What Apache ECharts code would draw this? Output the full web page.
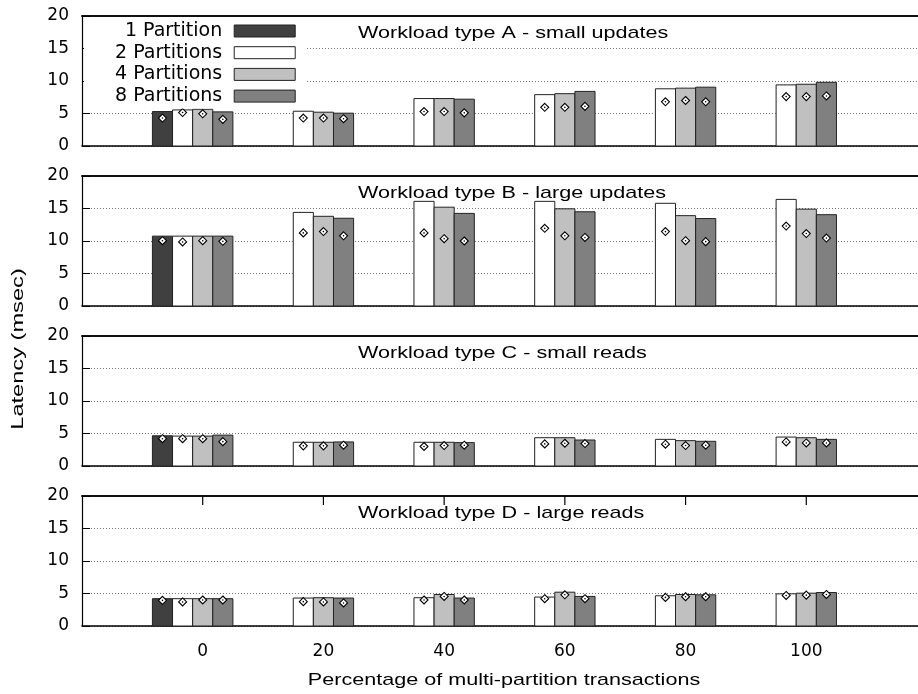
<!DOCTYPE html>
<html>
<head>
<meta charset="utf-8">
<script src="https://cdn.jsdelivr.net/npm/echarts@6/dist/echarts.min.js"></script>
<style>
  html, body { margin: 0; padding: 0; background: #fff; }
  #chart { width: 918px; height: 694px; }
</style>
</head>
<body>
<div id="chart"></div>
<script>
// x tick labels: percentage of multi-partition transactions
const pctLabels = ['0', '20', '40', '60', '80', '100'];
const partitionNames = ['1 Partition', '2 Partitions', '4 Partitions', '8 Partitions'];
const workloadTitles = [
  'Workload type A - small updates',
  'Workload type B - large updates',
  'Workload type C - small reads',
  'Workload type D - large reads'
];

// Bar heights (latency, msec); one row per partition count, one column per percentage
const meanA = [
  [5.3, null, null, null, null, null],
  [5.55, 5.35, 7.3, 7.9, 8.8, 9.4],
  [5.65, 5.2, 7.3, 8.05, 8.9, 9.5],
  [5.25, 5.05, 7.2, 8.4, 9.05, 9.8]
];
const meanB = [
  [10.75, null, null, null, null, null],
  [10.75, 14.4, 16.1, 16.1, 15.8, 16.4],
  [10.75, 13.8, 15.2, 14.95, 13.9, 14.9],
  [10.75, 13.5, 14.25, 14.5, 13.45, 14.05]
];
const meanC = [
  [4.65, null, null, null, null, null],
  [4.6, 3.65, 3.65, 4.35, 4.1, 4.45],
  [4.6, 3.65, 3.65, 4.35, 3.9, 4.35],
  [4.75, 3.7, 3.6, 4.0, 3.8, 4.1]
];
const meanD = [
  [4.2, null, null, null, null, null],
  [4.2, 4.3, 4.35, 4.45, 4.65, 4.95],
  [4.2, 4.35, 4.85, 5.2, 4.85, 5.05],
  [4.2, 4.3, 4.3, 4.55, 4.8, 5.15]
];

// Diamond markers (median latency, msec), same layout as the bars
const medianA = [
  [4.3, null, null, null, null, null],
  [5.15, 4.3, 5.3, 5.95, 6.8, 7.6],
  [4.95, 4.3, 5.3, 5.95, 7.0, 7.6],
  [4.1, 4.2, 5.1, 6.1, 6.8, 7.7]
];
const medianB = [
  [10.05, null, null, null, null, null],
  [9.85, 11.25, 11.25, 11.95, 11.45, 12.3],
  [10.05, 11.45, 10.35, 10.8, 10.05, 11.15],
  [9.95, 10.8, 10.0, 10.55, 9.9, 10.45]
];
const medianC = [
  [4.2, null, null, null, null, null],
  [4.2, 3.1, 3.0, 3.4, 3.35, 3.7],
  [4.2, 3.1, 3.15, 3.5, 3.15, 3.55],
  [3.75, 3.2, 3.2, 3.45, 3.2, 3.55]
];
const medianD = [
  [3.95, null, null, null, null, null],
  [3.7, 3.75, 4.0, 4.2, 4.4, 4.7],
  [4.0, 3.7, 4.55, 4.8, 4.5, 4.75],
  [4.0, 3.55, 4.0, 4.2, 4.5, 4.85]
];

const barFills = ['#404040', '#ffffff', '#c0c0c0', '#808080'];
const FONT = '"Liberation Sans", Arial, Helvetica, sans-serif';
const WIDE_FONT = '"DejaVu Sans", Verdana, sans-serif';
const panels = [
  { mean: meanA, median: medianA },
  { mean: meanB, median: medianB },
  { mean: meanC, median: medianC },
  { mean: meanD, median: medianD }
];
const panelTops = [16, 176, 336, 496];
const panelHeight = 130;
const groupIdx = [0, 1, 2, 3, 4, 5];
const yMax = 20;

const chart = echarts.init(document.getElementById('chart'), null, { renderer: 'canvas' });

const grids = [], xAxes = [], yAxes = [], series = [];

// One bar plus its diamond marker per data item, placed side by side within a group
function makeRenderer(partIdx) {
  return function (params, api) {
    const g = api.value(0);
    const v = api.value(1);
    const d = api.value(2);
    const base = api.coord([g, 0]);
    const top = api.coord([g, v]);
    const bw = api.size([1, 0])[0] / 6;
    const x0 = base[0] + (partIdx - 2.5) * bw;
    const cx = x0 + bw / 2;
    const cy = api.coord([g, d])[1];
    const r = 4;
    return {
      type: 'group',
      children: [
        {
          type: 'rect',
          shape: { x: x0, y: top[1], width: bw, height: base[1] - top[1] },
          style: { fill: barFills[partIdx], stroke: '#222', lineWidth: 1 }
        },
        {
          type: 'polygon',
          shape: { points: [[cx, cy - r], [cx + r, cy], [cx, cy + r], [cx - r, cy]] },
          style: { fill: '#fff', stroke: '#000', lineWidth: 1.1 }
        },
        {
          type: 'circle',
          shape: { cx: cx, cy: cy, r: 0.8 },
          style: { fill: '#000' }
        }
      ]
    };
  };
}

// Inward tick marks hanging from the top frame edge at each x tick
function renderTopTick(params, api) {
  const p = api.coord([api.value(0), api.value(1)]);
  return {
    type: 'rect',
    shape: { x: p[0] - 0.6, y: p[1], width: 1.2, height: 9 },
    style: { fill: '#000' }
  };
}

panels.forEach(function (p, pi) {
  const isLast = pi === panels.length - 1;
  grids.push({
    left: 82, right: -9, top: panelTops[pi], height: panelHeight,
    containLabel: false, outerBoundsMode: 'none'
  });

  // bottom axis (labels only on the last panel)
  xAxes.push({
    type: 'value', gridIndex: pi, position: 'bottom', min: -1, max: 6, interval: 1,
    axisLine: { show: true, onZero: false, lineStyle: { color: '#000', width: 1.5 } },
    axisTick: { show: false },
    splitLine: { show: false },
    axisLabel: {
      show: isLast, margin: 17, fontSize: 17, color: '#000', fontFamily: WIDE_FONT,
      customValues: groupIdx,
      formatter: function (val) { return pctLabels[Math.round(val)]; }
    }
  });
  // top frame edge
  xAxes.push({
    type: 'value', gridIndex: pi, position: 'top', min: -1, max: 6, interval: 1,
    axisLine: { show: true, onZero: false, lineStyle: { color: '#111', width: 2 } },
    axisTick: { show: false },
    axisLabel: { show: false },
    splitLine: { show: false }
  });
  yAxes.push({
    type: 'value', gridIndex: pi, min: 0, max: yMax, interval: 5, position: 'left',
    axisLine: { show: true, onZero: false, lineStyle: { color: '#000', width: 1.2 } },
    axisTick: { show: true, inside: true, length: 8, lineStyle: { color: '#000' } },
    axisLabel: { margin: 13, fontSize: 17, color: '#000', fontFamily: WIDE_FONT },
    splitLine: { show: true, lineStyle: { color: '#777', type: [1, 2], width: 1 } }
  });

  p.mean.forEach(function (row, partIdx) {
    const data = [];
    row.forEach(function (v, gi) {
      if (v != null) data.push([gi, v, p.median[partIdx][gi]]);
    });
    series.push({
      type: 'custom',
      name: partitionNames[partIdx],
      xAxisIndex: pi * 2,
      yAxisIndex: pi,
      renderItem: makeRenderer(partIdx),
      encode: { x: 0, y: 1 },
      itemStyle: { color: barFills[partIdx], borderColor: '#222', borderWidth: 1 },
      data: data,
      z: 3
    });
  });

  if (isLast) {
    series.push({
      type: 'custom',
      name: 'top ticks',
      xAxisIndex: pi * 2,
      yAxisIndex: pi,
      renderItem: renderTopTick,
      encode: { x: 0, y: 1 },
      silent: true,
      clip: false,
      data: groupIdx.map(function (g) { return [g, yMax]; }),
      z: 20
    });
  }
});

const titleTexts = workloadTitles.map(function (t, pi) {
  return {
    type: 'text', x: 358, y: panelTops[pi] + 17, scaleX: 1.27, z: 10,
    style: { text: t, font: '17px ' + FONT, fill: '#000', textVerticalAlign: 'middle' }
  };
});

chart.setOption({
  animation: false,
  backgroundColor: '#fff',
  textStyle: { fontFamily: FONT },
  grid: grids,
  xAxis: xAxes,
  yAxis: yAxes,
  legend: {
    data: partitionNames,
    orient: 'vertical',
    align: 'right',
    left: 84,
    top: 18,
    backgroundColor: '#fff',
    padding: [3.5, 10, 3, 31],
    itemWidth: 61,
    itemHeight: 12,
    itemGap: 2.7,
    icon: 'rect',
    itemStyle: { borderColor: '#222', borderWidth: 1 },
    textStyle: { fontSize: 19, lineHeight: 19, color: '#000', fontFamily: WIDE_FONT, padding: [0, 7, 0, 0] },
    selectedMode: false,
    z: 8
  },
  graphic: titleTexts.concat([
    {
      type: 'text', x: 504, y: 680, scaleX: 1.27,
      style: { text: 'Percentage of multi-partition transactions', font: '17px ' + FONT, fill: '#000',
        textAlign: 'center', textVerticalAlign: 'middle' }
    },
    {
      type: 'text', rotation: Math.PI / 2, x: 18, y: 349, scaleX: 1.39,
      style: { text: 'Latency (msec)', font: '17px ' + FONT, fill: '#000',
        textAlign: 'center', textVerticalAlign: 'middle' }
    }
  ]),
  series: series
});
</script>
</body>
</html>
